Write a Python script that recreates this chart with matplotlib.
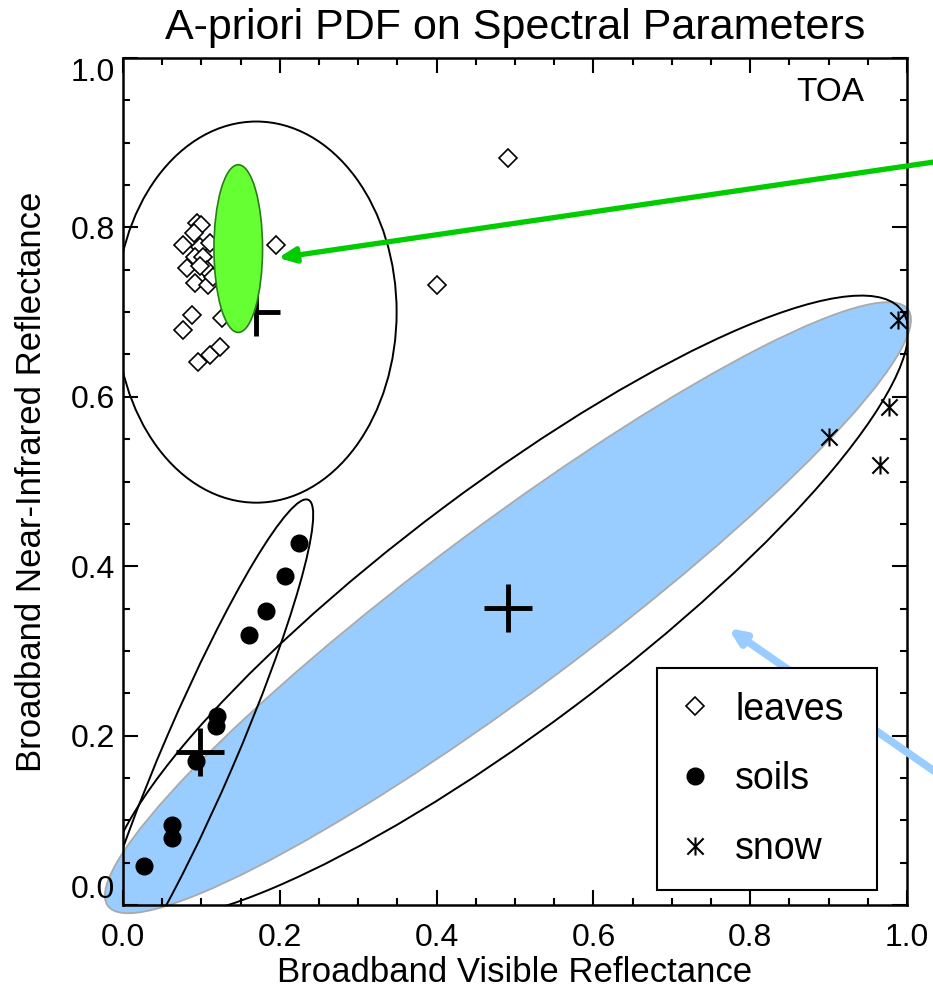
import numpy as np
import matplotlib
matplotlib.use('Agg')
import matplotlib.pyplot as plt
from matplotlib.patches import Ellipse
from matplotlib.path import Path
from matplotlib.lines import Line2D

plt.rcParams['font.family'] = ['Liberation Sans', 'DejaVu Sans']

# ---------------- data ----------------
leaves_x = [0.094, 0.100, 0.077, 0.090, 0.098, 0.081, 0.092, 0.102, 0.107, 0.092,
            0.109, 0.111, 0.088, 0.077, 0.126, 0.096, 0.111, 0.124, 0.115, 0.098,
            0.195, 0.401, 0.491]
leaves_y = [0.805, 0.803, 0.779, 0.793, 0.777, 0.752, 0.765, 0.765, 0.750, 0.734,
            0.732, 0.781, 0.697, 0.679, 0.693, 0.641, 0.649, 0.659, 0.742, 0.754,
            0.779, 0.732, 0.882]

soils_x = [0.027, 0.063, 0.063, 0.093, 0.119, 0.120, 0.161, 0.182, 0.207, 0.224]
soils_y = [0.046, 0.079, 0.095, 0.170, 0.211, 0.223, 0.319, 0.347, 0.388, 0.427]

snow_x = [0.988, 0.977, 0.900, 0.966]
snow_y = [0.691, 0.588, 0.553, 0.519]

# class means (plus signs) and covariance ellipses: leaves, soils, snow
mean_x = [0.170, 0.098, 0.491]
mean_y = [0.700, 0.181, 0.351]
ell_width = [0.358, 0.656, 1.226]
ell_height = [0.450, 0.091, 0.288]
ell_angle = [0.0, 65.0, 34.7]

# shaded ellipses
blue_center = (0.491, 0.351)
blue_width, blue_height, blue_angle = 1.24, 0.20, 34.5
green_center = (0.147, 0.775)
green_width, green_height, green_angle = 0.062, 0.198, 0.0

# arrows (tip, tail)
green_arrow_tip = (0.198, 0.764)
green_arrow_tail = (1.055, 0.880)
blue_arrow_tip = (0.772, 0.327)
blue_arrow_tail = (1.055, 0.145)

xticks = [0.0, 0.2, 0.4, 0.6, 0.8, 1.0]
yticks = [0.0, 0.2, 0.4, 0.6, 0.8, 1.0]

# ---------------- figure ----------------
W, H = 933, 989
fig = plt.figure(figsize=(W / 100, H / 100), dpi=100)
ax = fig.add_axes([123 / W, 84 / H, 784 / W, 847 / H])
ax.set_xlim(0, 1)
ax.set_ylim(0, 1)

# blue filled ellipse (not clipped)
be = Ellipse(blue_center, blue_width, blue_height, angle=blue_angle,
             facecolor='#99ccff', edgecolor='#aaaaaa', lw=1.3, zorder=1)
be.set_clip_on(False)
ax.add_patch(be)

# black covariance ellipses
for cx, cy, w, h, a in zip(mean_x, mean_y, ell_width, ell_height, ell_angle):
    ax.add_patch(Ellipse((cx, cy), w, h, angle=a, facecolor='none',
                         edgecolor='black', lw=1.4, zorder=2))

# plus signs at the means
ax.plot(mean_x, mean_y, linestyle='none', marker='+', ms=35, mew=3.5,
        color='black', zorder=3)

# snow asterisk marker
ast = Path([(0, -1), (0, 1), (-0.9, -0.9), (0.9, 0.9),
            (-0.9, 0.9), (0.9, -0.9)],
           [Path.MOVETO, Path.LINETO, Path.MOVETO, Path.LINETO,
            Path.MOVETO, Path.LINETO])

ax.plot(leaves_x, leaves_y, linestyle='none', marker='D', ms=9, mfc='white',
        mec='black', mew=1.2, zorder=3)
ax.plot(soils_x, soils_y, linestyle='none', marker='o', ms=12, color='black', zorder=3)
ax.plot(snow_x, snow_y, linestyle='none', marker=ast, ms=13, mec='black',
        mew=1.5, zorder=3)

# green ellipse on top of leaves
ge = Ellipse(green_center, green_width, green_height, angle=green_angle,
             facecolor='#66ff33', edgecolor='#2a7d1a', lw=1.2, zorder=4)
ax.add_patch(ge)

# arrows
ax.annotate('', xy=green_arrow_tip, xytext=green_arrow_tail,
            arrowprops=dict(arrowstyle='-|>,head_length=1.0,head_width=0.45',
                            color='#00cc00', lw=3.8, shrinkA=0, shrinkB=0),
            annotation_clip=False, zorder=7)
ax.annotate('', xy=blue_arrow_tip, xytext=blue_arrow_tail,
            arrowprops=dict(arrowstyle='-|>,head_length=0.9,head_width=0.4',
                            color='#99ccff', lw=5.5, shrinkA=0, shrinkB=0),
            annotation_clip=False, zorder=7)

ax.text(0.945, 0.949, 'TOA', fontsize=24, ha='right', va='baseline')

# ticks
ax.set_xticks(xticks)
ax.set_yticks(yticks)
ax.set_xticklabels([f'{v:.1f}' for v in xticks])
ax.set_yticklabels([f'{v:.1f}' for v in yticks])
ax.xaxis.set_minor_locator(matplotlib.ticker.MultipleLocator(0.05))
ax.yaxis.set_minor_locator(matplotlib.ticker.MultipleLocator(0.05))
ax.tick_params(which='both', direction='in', top=True, right=True, width=1.5,
               labelsize=23)
ax.tick_params(axis='x', which='major', pad=13)
ax.tick_params(axis='y', which='major', pad=6)
ax.tick_params(which='major', length=11)
ax.tick_params(which='minor', length=5)
for s in ax.spines.values():
    s.set_linewidth(1.8)
ylabs = ax.get_yticklabels()
ylabs[0].set_va('bottom')
ylabs[-1].set_va('top')

ax.set_title('A-priori PDF on Spectral Parameters', fontsize=31, pad=14)
ax.set_xlabel('Broadband Visible Reflectance', fontsize=25, labelpad=2)
ax.set_ylabel('Broadband Near-Infrared Reflectance', fontsize=25, labelpad=16)

handles = [
    Line2D([], [], linestyle='none', marker='D', ms=9, mfc='white', mec='black', mew=1.2),
    Line2D([], [], linestyle='none', marker='o', ms=12, color='black'),
    Line2D([], [], linestyle='none', marker=ast, ms=13, mec='black', mew=1.5),
]
leg = fig.legend(handles, ['leaves', 'soils', 'snow'], loc='upper left',
                 bbox_to_anchor=(656.7 / W, 0.1069, 220 / W, (883.3 - 668.3) / H),
                 bbox_transform=fig.transFigure, mode='expand', borderaxespad=0,
                 fontsize=27, borderpad=0.62, handlelength=0.82, handletextpad=0.65,
                 labelspacing=0.9, fancybox=False, framealpha=1,
                 edgecolor='black')
leg.get_frame().set_linewidth(1.5)
leg.set_zorder(5)

fig.savefig('out.png', dpi=100)
